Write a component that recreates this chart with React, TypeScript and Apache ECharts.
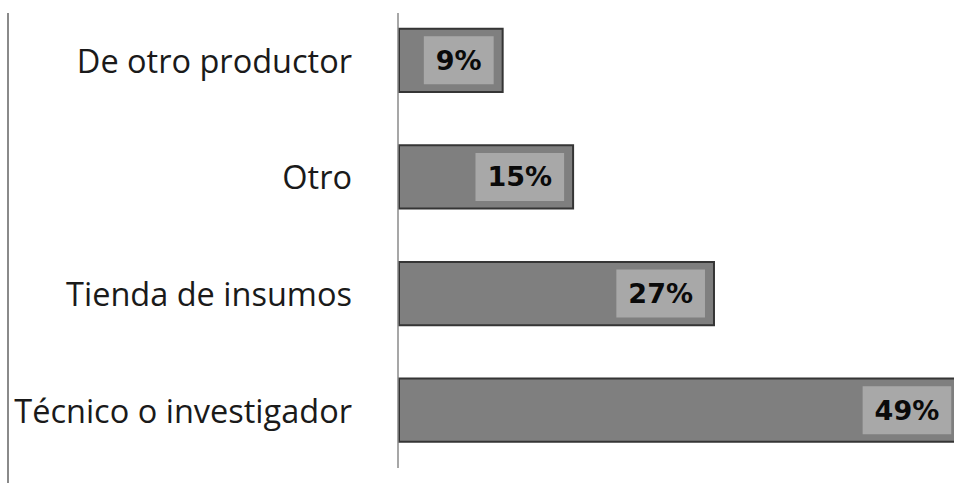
import React, { useEffect, useRef } from "react";
import * as echarts from "echarts";

const categories = ["Técnico o investigador", "Tienda de insumos", "Otro", "De otro productor"];
const values = [49, 27, 15, 9];
const valueLabels = ["49%", "27%", "15%", "9%"];

export default function App() {
  const ref = useRef<HTMLDivElement>(null);
  useEffect(() => {
    if (!ref.current) return;
    const chart = echarts.init(ref.current, undefined, { renderer: "svg" });
    chart.setOption({
      animation: false,
      backgroundColor: "#ffffff",
      grid: {
        left: 398,
        top: 2,
        height: 466.5,
        width: 587,
        containLabel: false,
        outerBoundsMode: "none",
      },
      xAxis: {
        type: "value",
        min: 0,
        max: 50,
        show: false,
      },
      yAxis: {
        type: "category",
        data: categories,
        axisLine: { show: false },
        axisTick: { show: false },
        axisLabel: {
          margin: 46,
          fontFamily: "Open Sans",
          fontSize: 32.5,
          color: "#1a1a1a",
        },
      },
      series: [
        {
          type: "bar",
          data: values.map((v, i) => ({
            value: v,
            label: { formatter: valueLabels[i], distance: i === 0 ? 22 : 10 },
          })),
          barCategoryGap: "44%",
          itemStyle: { color: "#7f7f7f", borderColor: "#353535", borderWidth: 2 },
          label: {
            show: true,
            position: "insideRight",
            fontFamily: "DejaVu Sans",
            fontWeight: "bold",
            fontSize: 27,
            lineHeight: 30,
            color: "#0a0a0a",
            backgroundColor: "#a8a8a8",
            padding: [9, 12],
          },
        },
      ],
      graphic: [
        {
          type: "line",
          shape: { x1: 398, y1: 13, x2: 398, y2: 468 },
          style: { stroke: "#8a8a8a", lineWidth: 1.5 },
          z: 10,
        },
        {
          type: "line",
          shape: { x1: 8, y1: 13, x2: 8, y2: 483 },
          style: { stroke: "#8a8a8a", lineWidth: 2 },
        },
      ],
    });
    return () => chart.dispose();
  }, []);
  return (
    <div
      ref={ref}
      style={{ position: "fixed", left: 0, top: 0, width: 954, height: 483, overflow: "hidden" }}
    />
  );
}
